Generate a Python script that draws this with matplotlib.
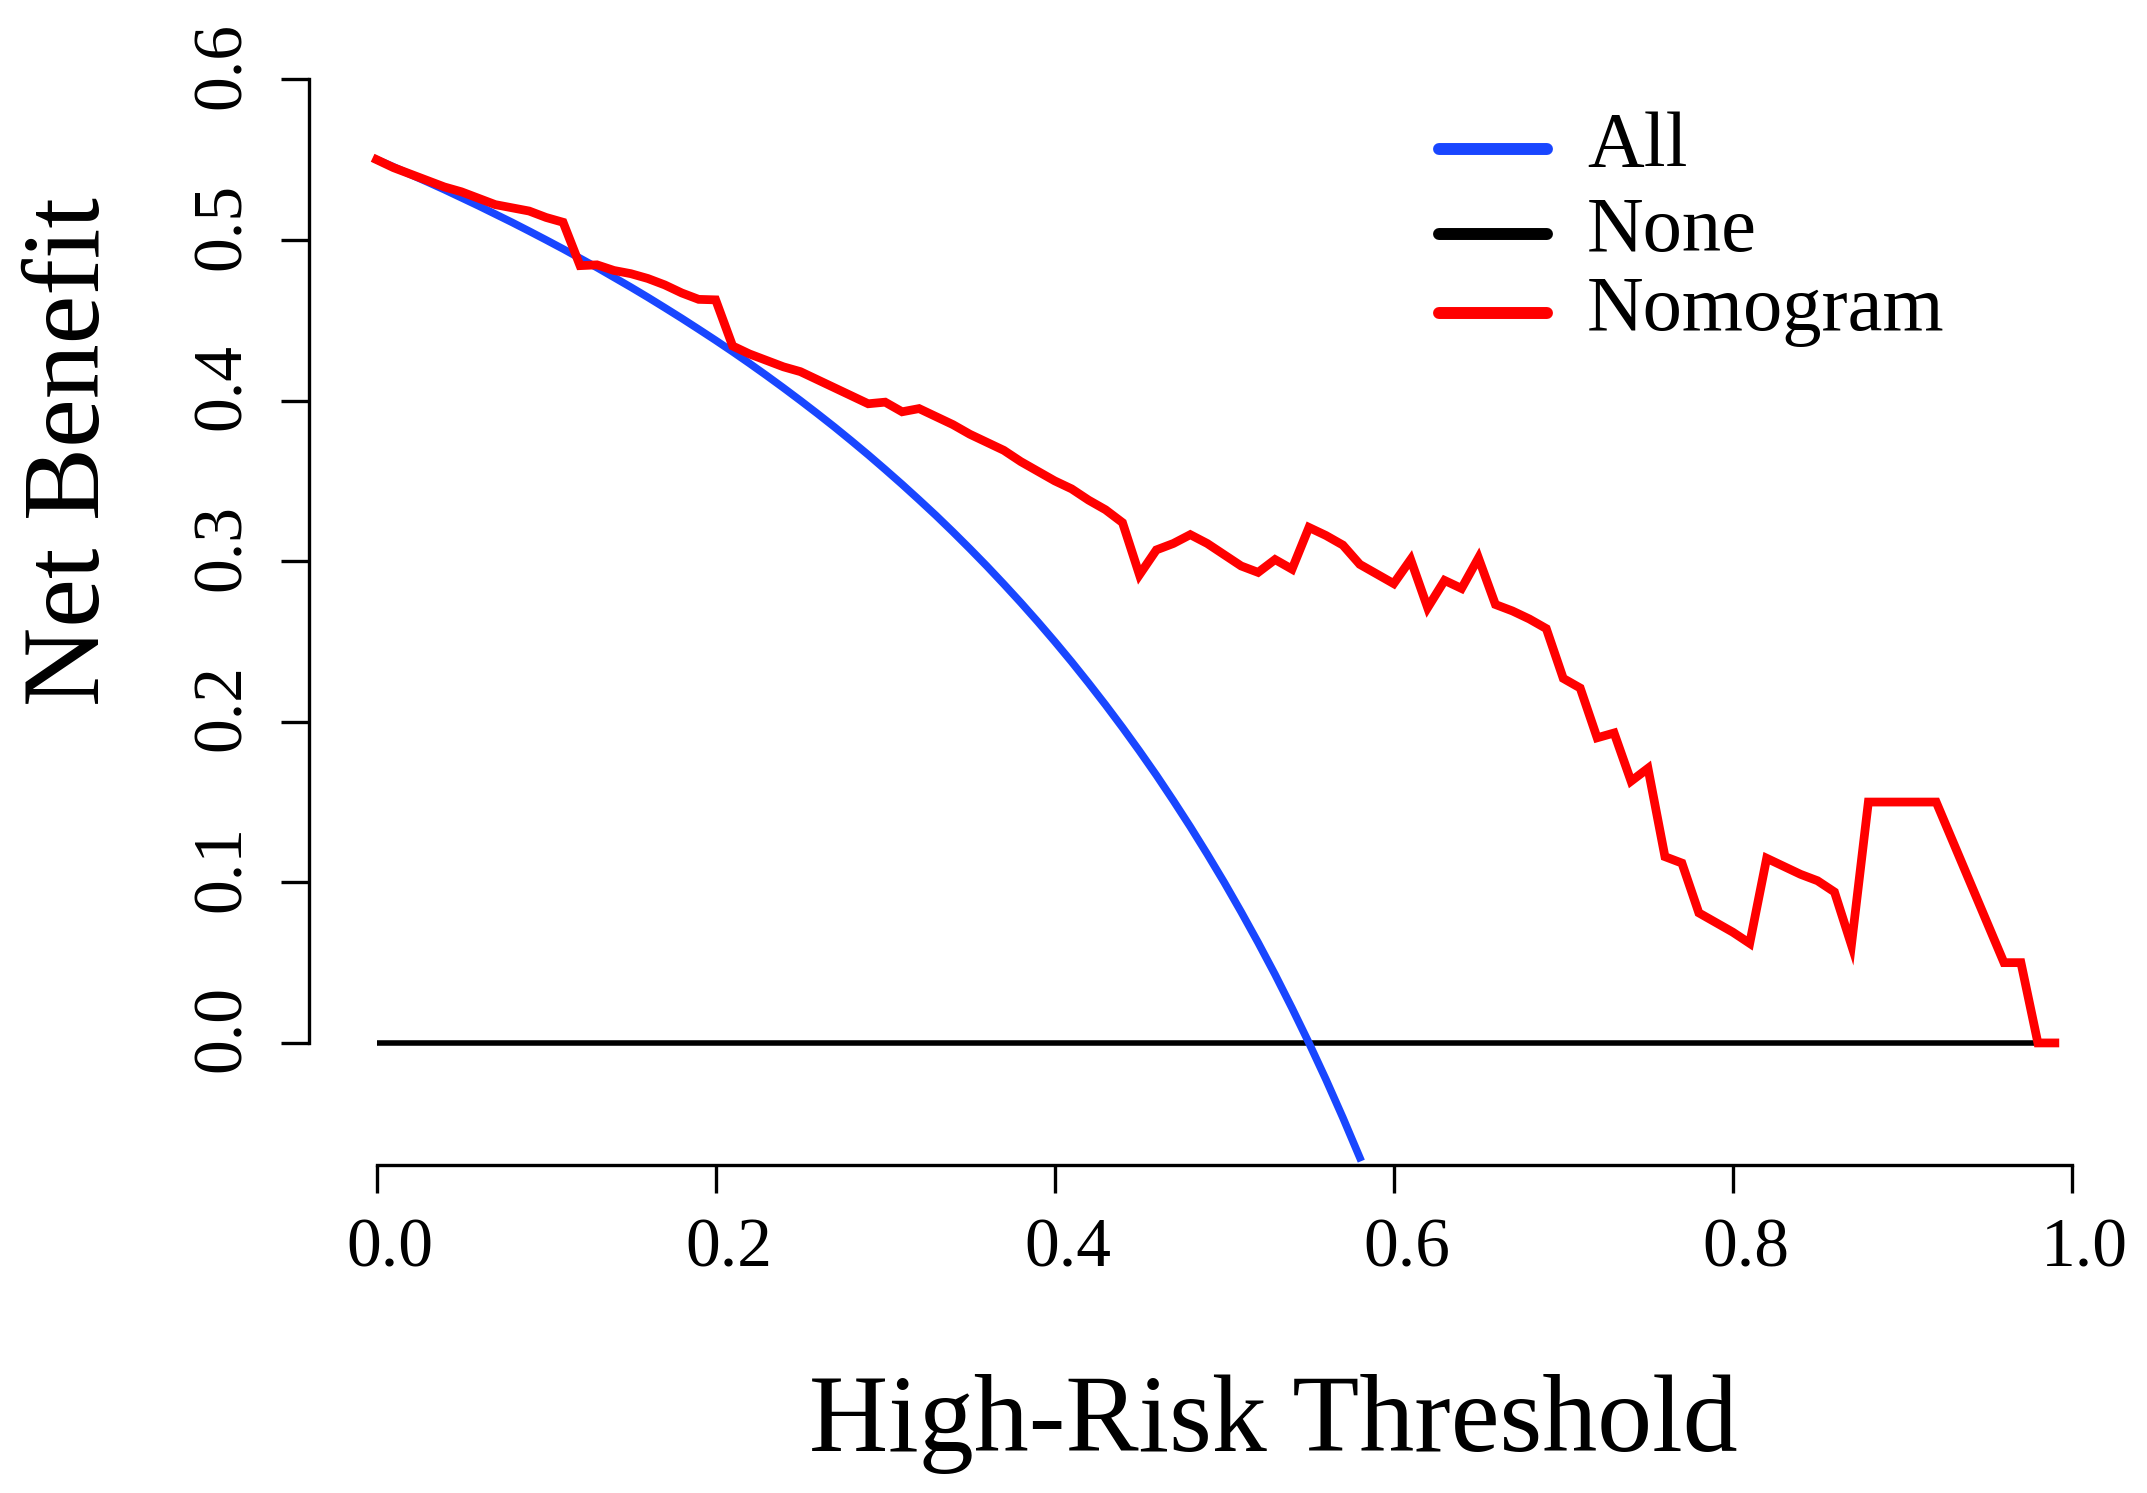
import matplotlib
matplotlib.use("Agg")
import matplotlib.pyplot as plt
import matplotlib.transforms as mtransforms
from matplotlib.lines import Line2D
import numpy as np

plt.rcParams['font.family'] = ['Liberation Serif', 'DejaVu Serif']

# thresholds (0.00 .. 0.99 by 0.01)
thresholds = [round(i * 0.01, 2) for i in range(100)]

# net benefit of the nomogram
nomogram = [0.550, 0.545, 0.541, 0.537, 0.533, 0.530, 0.526, 0.522, 0.520, 0.518,
            0.514, 0.511, 0.484, 0.4845, 0.481, 0.479, 0.476, 0.472, 0.467, 0.463,
            0.4627, 0.434, 0.429, 0.425, 0.421, 0.418, 0.413, 0.408, 0.403, 0.398,
            0.399, 0.393, 0.395, 0.390, 0.385, 0.379, 0.374, 0.369, 0.362, 0.356,
            0.350, 0.345, 0.338, 0.332, 0.324, 0.2915, 0.307, 0.311, 0.3165, 0.311,
            0.304, 0.297, 0.293, 0.301, 0.295, 0.321, 0.316, 0.310, 0.298, 0.292,
            0.286, 0.301, 0.271, 0.288, 0.283, 0.302, 0.273, 0.269, 0.264, 0.258,
            0.227, 0.221, 0.190, 0.193, 0.163, 0.171, 0.116, 0.112, 0.081, 0.075,
            0.069, 0.062, 0.115, 0.110, 0.105, 0.101, 0.094, 0.061, 0.150, 0.150,
            0.150, 0.150, 0.150, 0.125, 0.100, 0.075, 0.050, 0.050, 0.000, 0.000]

# treat-all curve (0.00 .. 0.58)
all_thr = thresholds[:59]
treat_all = [0.5500, 0.5455, 0.5408, 0.5361, 0.5313, 0.5263, 0.5213, 0.5161, 0.5109, 0.5055,
             0.5000, 0.4944, 0.4886, 0.4828, 0.4767, 0.4706, 0.4643, 0.4578, 0.4512, 0.4444,
             0.4375, 0.4304, 0.4231, 0.4156, 0.4079, 0.4000, 0.3919, 0.3836, 0.3750, 0.3662,
             0.3571, 0.3478, 0.3382, 0.3284, 0.3182, 0.3077, 0.2969, 0.2857, 0.2742, 0.2623,
             0.2500, 0.2373, 0.2241, 0.2105, 0.1964, 0.1818, 0.1667, 0.1509, 0.1346, 0.1176,
             0.1000, 0.0816, 0.0625, 0.0426, 0.0217, 0.0000, -0.0227, -0.0465, -0.0714]

treat_none = [0.0] * len(thresholds)

series_names = ['All', 'None', 'Nomogram']
series_colors = ['#1946ff', 'black', '#ff0000']

W, H = 2147, 1493
fig = plt.figure(figsize=(W / 100, H / 100), dpi=100)
ax = fig.add_axes([308.8 / W, 1 - 1165 / H, (2139.6 - 308.8) / W, (1165 - 37.6) / H])

ax.plot(thresholds, treat_none, color='black', lw=4.0, solid_capstyle='butt')
ax.plot(all_thr, treat_all, color=series_colors[0], lw=5.5)
ax.plot(thresholds, nomogram, color=series_colors[2], lw=6.3, solid_joinstyle='miter')

ax.set_xlim(-0.04, 1.04)
ax.set_ylim(-0.076, 0.626)

for s in ['top', 'right']:
    ax.spines[s].set_visible(False)
for s in ['left', 'bottom']:
    ax.spines[s].set_linewidth(2.4)
ax.spines['left'].set_bounds(0, 0.6)
ax.spines['bottom'].set_bounds(0, 1)

xt = [0.0, 0.2, 0.4, 0.6, 0.8, 1.0]
yt = [0.0, 0.1, 0.2, 0.3, 0.4, 0.5, 0.6]
ax.set_xticks(xt)
ax.set_xticklabels([f"{v:.1f}" for v in xt])
ax.set_yticks(yt)
ax.set_yticklabels([f"{v:.1f}" for v in yt])
ax.tick_params(axis='both', length=20, width=2.4, labelsize=50)
ax.tick_params(axis='x', pad=18)
ax.tick_params(axis='y', pad=19, labelrotation=90)
for lab in ax.get_yticklabels():
    lab.set_va('center')

# small offsets seen in the original label placement
offx = mtransforms.ScaledTranslation(13 / 100, 0, fig.dpi_scale_trans)
offy = mtransforms.ScaledTranslation(0, 14 / 100, fig.dpi_scale_trans)
for lab in ax.get_xticklabels():
    lab.set_transform(lab.get_transform() + offx)
for lab in ax.get_yticklabels():
    lab.set_transform(lab.get_transform() + offy)

# axis titles
fig.text(1273.5 / W, 1 - 1451 / H, 'High-Risk Threshold', fontsize=79,
         ha='center', va='baseline')
fig.text(98.6 / W, 1 - 452 / H, 'Net Benefit', fontsize=79, rotation=90,
         rotation_mode='anchor', ha='center', va='baseline')

# legend drawn by hand
line_y = [149.3, 234.0, 312.7]
for name, col, ly in zip(series_names, series_colors, line_y):
    fig.add_artist(Line2D([1439 / W, 1547 / W], [1 - ly / H, 1 - ly / H],
                          transform=fig.transFigure, color=col, lw=8.6,
                          solid_capstyle='round'))
    fig.text(1587 / W, 1 - (ly + 17) / H, name, fontsize=56.5, ha='left', va='baseline')

fig.savefig('out.png', dpi=100)
